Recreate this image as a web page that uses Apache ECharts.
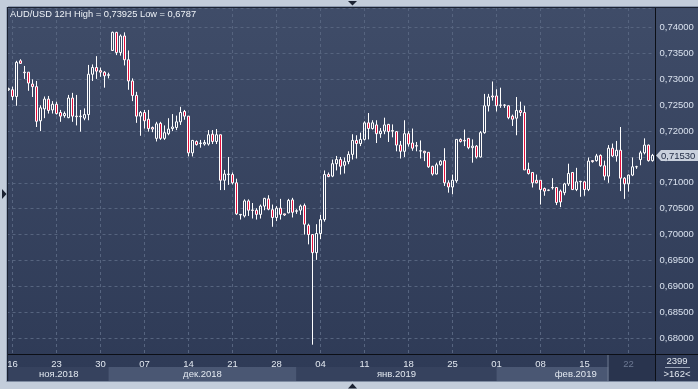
<!DOCTYPE html>
<html><head><meta charset="utf-8">
<script src="https://cdn.jsdelivr.net/npm/echarts@6/dist/echarts.min.js"></script>
<style>html,body{margin:0;padding:0;background:#c3cddb;overflow:hidden}#c{width:698px;height:389px;}</style>
</head><body><div id="c"></div><script>
const titleText = 'AUD/USD 12H High = 0,73925 Low = 0,6787';
const tickLabels = ['16','23','30','07','14','21','28','04','11','18','25','01','08','15','22'];
const monthLabels = ['ноя.2018','дек.2018','янв.2019','фев.2019'];
const monthStarts = [0, 25, 72, 122];
const shadedFrom = 150;
const infoTop = '2399';
const infoBottom = '>162<';

const opens = [
.7280,.7280,.7267,.7336,.7314,.7314,.7291,.7286,.7220,.7243,
.7262,.7241,.7252,.7236,.7230,.7226,.7264,.7229,.7228,.7225,
.7232,.7310,.7323,.7317,.7314,.7308,.7356,.7391,.7352,.7384,
.7338,.7297,.7269,.7229,.7236,.7223,.7207,.7186,.7215,.7186,
.7195,.7205,.7207,.7218,.7238,.7229,.7158,.7180,.7176,.7175,
.7175,.7194,.7180,.7193,.7105,.7116,.7116,.7100,.7038,.7036,
.7065,.70475,.7047,.7039,.7055,.7069,.7048,.7033,.7051,.7040,
.7042,.7067,.7045,.7047,.7056,.7018,.7000,.6965,.7002,.7029,
.7116,.7113,.7137,.7145,.7134,.7141,.7155,.7182,.7176,.7184,
.7216,.7205,.7212,.7195,.7200,.7213,.7200,.7199,.7173,.7161,
.7195,.7177,.7172,.71615,.7161,.7159,.7132,.7117,.7135,.7143,
.7100,.7092,.7104,.7184,.7182,.7186,.7168,.7171,.7150,.7197,
.7249,.7268,.7268,.72505,.72505,.7249,.7229,.7225,.7240,.7236,
.7126,.7120,.7105,.7105,.7089,.70855,.7091,.7091,.7084,.7081,
.7098,.7120,.7087,.7102,.7102,.7087,.7143,.7143,.7153,.7133,
.7113,.7167,.7152,.7163,.7109,.7098,.7115,.7131,.7145,.7158,
.7173,.7143];
const closes = [
.7282,.7267,.7333,.7331,.7313,.7293,.7286,.7219,.7245,.7262,
.7240,.7252,.7234,.7229,.7234,.7264,.7229,.7228,.7229,.7232,
.7310,.7323,.7316,.7314,.7307,.7309,.7391,.7352,.7384,.7338,
.7297,.7269,.7229,.7236,.7220,.7205,.7204,.7214,.7186,.7197,
.7204,.7208,.7218,.7236,.7229,.7158,.7182,.7174,.7177,.7178,
.7193,.7180,.7193,.7105,.7117,.7117,.7100,.7040,.7039,.7065,
.7047,.70467,.7039,.7055,.7070,.7049,.7033,.7051,.7039,.7038,
.7066,.7043,.7046,.7055,.7020,.7000,.6965,.7002,.7029,.7116,
.7112,.7137,.7145,.7132,.7141,.7155,.7182,.7176,.7184,.7216,
.7205,.7216,.7195,.7200,.7212,.7199,.7201,.7173,.7161,.7195,
.7175,.7167,.7171,.7162,.7158,.7131,.7117,.7135,.7142,.7100,
.7092,.7105,.7184,.7180,.7181,.7168,.7171,.7150,.7197,.7249,
.7266,.7266,.7249,.7250,.7250,.7226,.7223,.7240,.7236,.7125,
.7118,.7100,.7100,.7087,.7084,.7086,.70905,.7062,.7063,.7098,
.7118,.7087,.7102,.71028,.7087,.7142,.7141,.7152,.7133,.7113,
.7167,.7152,.7163,.7109,.7098,.7115,.7131,.71312,.7158,.7173,
.7143,.7153];
const lows = [
.7278,.7260,.7249,.7330,.7301,.7278,.7266,.7208,.7200,.7225,
.7234,.7234,.7232,.7218,.7226,.7225,.7218,.7211,.7199,.7221,
.7221,.7297,.7301,.7305,.7284,.7302,.7357,.7347,.7346,.7327,
.7280,.7258,.7216,.7191,.7205,.7199,.7198,.7180,.7183,.7183,
.7192,.7200,.7202,.7212,.7222,.7151,.7151,.7172,.7168,.7172,
.7172,.7175,.7175,.7086,.7086,.7096,.7097,.7038,.7029,.7033,
.7036,.7031,.7029,.7031,.7047,.7047,.7015,.7026,.7029,.7036,
.7041,.7033,.7040,.7038,.7000,.6981,.6787,.6951,.6991,.7025,
.7111,.7111,.7124,.7116,.7118,.7136,.7145,.7147,.7171,.7182,
.7184,.7203,.7177,.7187,.7194,.7179,.7188,.7161,.7147,.7150,
.7170,.7162,.7161,.7147,.7142,.7129,.7114,.7116,.7133,.7094,
.7081,.7078,.7100,.7178,.7171,.7165,.7139,.7147,.7149,.7195,
.7238,.7259,.7238,.7245,.7245,.7223,.7210,.7192,.7229,.7125,
.7116,.7091,.7099,.7058,.7075,.7084,.7087,.7057,.7053,.7076,
.7094,.7086,.7084,.7073,.7075,.7084,.7139,.7141,.7131,.7105,
.7100,.7150,.7141,.7084,.7069,.7083,.7113,.7127,.7134,.7155,
.7141,.7141];
const highs = [
.7284,.7286,.7336,.7339,.7326,.7314,.7300,.7297,.7250,.7267,
.7268,.7258,.7257,.7241,.7238,.7270,.7274,.7270,.7241,.7244,
.7328,.7329,.7345,.7323,.7316,.7313,.73925,.7392,.7387,.7391,
.7356,.7302,.7276,.7239,.7241,.7241,.7209,.7218,.7218,.7211,
.7225,.7233,.7230,.7247,.7241,.7229,.7183,.7182,.7183,.7183,
.7202,.7202,.7204,.7193,.7125,.7150,.7120,.7108,.7039,.7068,
.7068,.7061,.7051,.7058,.7071,.7076,.7058,.7055,.7069,.7040,
.7069,.7071,.7049,.7058,.7060,.7021,.7000,.7020,.7038,.7124,
.7120,.7145,.7152,.7150,.7149,.7161,.7194,.7192,.7197,.7219,
.7235,.7221,.7221,.7206,.7226,.7214,.7213,.7200,.7181,.7221,
.7200,.7205,.7179,.7182,.7162,.7159,.7133,.7139,.7144,.7167,
.7105,.7116,.7184,.7186,.7203,.7186,.7184,.7173,.7200,.7272,
.7272,.7296,.7281,.7284,.7252,.7250,.7232,.7266,.7257,.7249,
.7139,.7121,.7116,.7105,.7091,.7087,.7109,.7092,.7087,.7100,
.7137,.7121,.7129,.7104,.7104,.7149,.7143,.7156,.7155,.7143,
.7173,.7176,.7181,.7208,.7111,.7116,.7149,.7133,.7162,.7186,
.7174,.7156];

const categories = opens.map((_, i) => String(i));
const ohlc = opens.map((o, i) => [o, closes[i], lows[i], highs[i]]);
const fmtPrice = v => v.toFixed(5).replace('.', ',');
const FONT = 'Liberation Sans';

const chart = echarts.init(document.getElementById('c'), null, {renderer: 'canvas'});
const option = {
  animation: false,
  backgroundColor: 'transparent',
  grid: {left: 6.5, right: 43.5, top: 8, bottom: 35},
  xAxis: {
    type: 'category', data: categories, boundaryGap: true,
    axisLine: {show: false}, axisTick: {show: false},
    axisLabel: {
      interval: (i) => i % 11 === 1,
      margin: 5, fontSize: 9.5, fontFamily: FONT, color: '#e2e8f0',
      formatter: (v, i) => {
        const t = tickLabels[(i - 1) / 11] || '';
        return i >= shadedFrom ? '{g|' + t + '}' : t;
      },
      rich: {g: {color: '#6d7993', fontSize: 9.5, fontFamily: FONT}}
    },
    splitLine: {show: true, interval: (i) => i % 11 === 1, alignWithLabel: true,
      lineStyle: {color: '#56647f', type: [3, 3], width: 1}}
  },
  yAxis: {
    type: 'value', position: 'right', scale: true,
    min: 0.67690, max: 0.74381, minInterval: 0.005, maxInterval: 0.005,
    axisLine: {show: false}, axisTick: {show: false},
    axisLabel: {margin: 5, fontSize: 9.5, fontFamily: FONT, color: '#d9e1ee',
      showMinLabel: false, showMaxLabel: false, formatter: fmtPrice},
    splitLine: {show: true, lineStyle: {color: '#56647f', type: [3, 3], width: 1}}
  },
  series: [{
    type: 'candlestick', data: ohlc, barWidth: 2,
    itemStyle: {color: 'rgba(0,0,0,0)', color0: '#e5103c', borderColor: '#ffffff',
      borderColor0: '#ffffff', borderColorDoji: '#ffffff', borderWidth: 1},
    emphasis: {disabled: true}, silent: true
  }]
};
chart.setOption(option);

function txt(x, y, s, fill, size, align) {
  return {type: 'text', z: 81, silent: true, x: x, y: y,
    style: {text: s, fill: fill, fontSize: size, fontFamily: FONT, align: align || 'left', verticalAlign: 'middle'}};
}

function buildGraphics() {
  const px = i => chart.convertToPixel({xAxisIndex: 0}, i);
  const py = v => chart.convertToPixel({yAxisIndex: 0}, v);
  const g = [];
  g.push({type: 'rect', z: -20, silent: true, shape: {x: 8, y: 8, width: 690, height: 373},
    style: {fill: new echarts.graphic.LinearGradient(0, 0, 0, 1, [
      {offset: 0, color: '#3f4c68'}, {offset: 1, color: '#2e3a56'}])}});
  const rowTop = 367, rowH = 14;
  for (let m = 0; m < monthLabels.length; m++) {
    const x0 = m === 0 ? 9 : px(monthStarts[m]);
    const x1 = m + 1 < monthLabels.length ? px(monthStarts[m + 1]) : 655;
    g.push({type: 'rect', z: -15, silent: true, shape: {x: x0, y: rowTop, width: x1 - x0, height: rowH},
      style: {fill: m % 2 ? '#4a5773' : '#36425e'}});
    g.push(txt((x0 + x1) / 2, rowTop + rowH / 2 + 0.5, monthLabels[m], '#e2e8f0', 9.5, 'center'));
  }
  const xs = px(shadedFrom);
  g.push({type: 'rect', z: -12, silent: true, shape: {x: xs, y: 355, width: 655 - xs, height: 26},
    style: {fill: '#29344e'}});
  g.push({type: 'line', z: 6, silent: true, shape: {x1: xs - 0.5, y1: 355, x2: xs - 0.5, y2: 381},
    style: {stroke: '#6f7a90', lineWidth: 1}});
  g.push({type: 'line', z: 60, silent: true, shape: {x1: 8, y1: 354.5, x2: 698, y2: 354.5}, style: {stroke: '#0c0f16', lineWidth: 1}});
  g.push({type: 'line', z: 60, silent: true, shape: {x1: 655.5, y1: 8, x2: 655.5, y2: 381}, style: {stroke: '#0c0f16', lineWidth: 1}});
  g.push({type: 'rect', z: 70, silent: true, shape: {x: 0, y: 0, width: 698, height: 7}, style: {fill: '#c3cddb'}});
  g.push({type: 'rect', z: 70, silent: true, shape: {x: 0, y: 0, width: 8, height: 389}, style: {fill: '#c3cddb'}});
  g.push({type: 'rect', z: 70, silent: true, shape: {x: 0, y: 382, width: 698, height: 7}, style: {fill: '#c3cddb'}});
  g.push({type: 'line', z: 71, silent: true, shape: {x1: 8, y1: 6.5, x2: 698, y2: 6.5}, style: {stroke: '#8d9ab0', lineWidth: 1}});
  g.push({type: 'line', z: 71, silent: true, shape: {x1: 8, y1: 7.5, x2: 698, y2: 7.5}, style: {stroke: '#1b2232', lineWidth: 1}});
  g.push({type: 'line', z: 71, silent: true, shape: {x1: 6.5, y1: 7, x2: 6.5, y2: 382}, style: {stroke: '#9aa7bb', lineWidth: 1}});
  g.push({type: 'line', z: 71, silent: true, shape: {x1: 7.5, y1: 7, x2: 7.5, y2: 382}, style: {stroke: '#1b2232', lineWidth: 1}});
  g.push({type: 'line', z: 71, silent: true, shape: {x1: 7, y1: 381.5, x2: 698, y2: 381.5}, style: {stroke: '#7f8ca2', lineWidth: 1}});
  g.push({type: 'polygon', z: 72, silent: true, shape: {points: [[348, 1], [357, 1], [352.5, 5.5]]}, style: {fill: '#1b2232'}});
  g.push({type: 'polygon', z: 72, silent: true, shape: {points: [[348, 388.5], [357, 388.5], [352.5, 383.5]]}, style: {fill: '#1b2232'}});
  g.push({type: 'polygon', z: 72, silent: true, shape: {points: [[2, 189], [2, 199], [6.5, 194]]}, style: {fill: '#1b2232'}});
  g.push(txt(10, 14.5, titleText, '#eef2f7', 9.3));
  const lastC = closes[closes.length - 1];
  const ty = Math.round(py(lastC)) + 0.5;
  g.push({type: 'polygon', z: 80, silent: true,
    shape: {points: [[656, ty], [661, ty - 5.5], [698, ty - 5.5], [698, ty + 5.5], [661, ty + 5.5]]},
    style: {fill: '#c9d0dc'}});
  g.push(txt(661, ty + 0.5, fmtPrice(lastC), '#1d2740', 9.5));
  g.push(txt(677, 361.5, infoTop, '#e2e8f0', 9.5, 'center'));
  g.push({type: 'line', z: 81, silent: true, shape: {x1: 665, y1: 367.5, x2: 690, y2: 367.5}, style: {stroke: '#9aa5b8', lineWidth: 1}});
  g.push(txt(677, 374.5, infoBottom, '#e2e8f0', 9.5, 'center'));
  chart.setOption({graphic: {elements: g}});
}
buildGraphics();
</script></body></html>
